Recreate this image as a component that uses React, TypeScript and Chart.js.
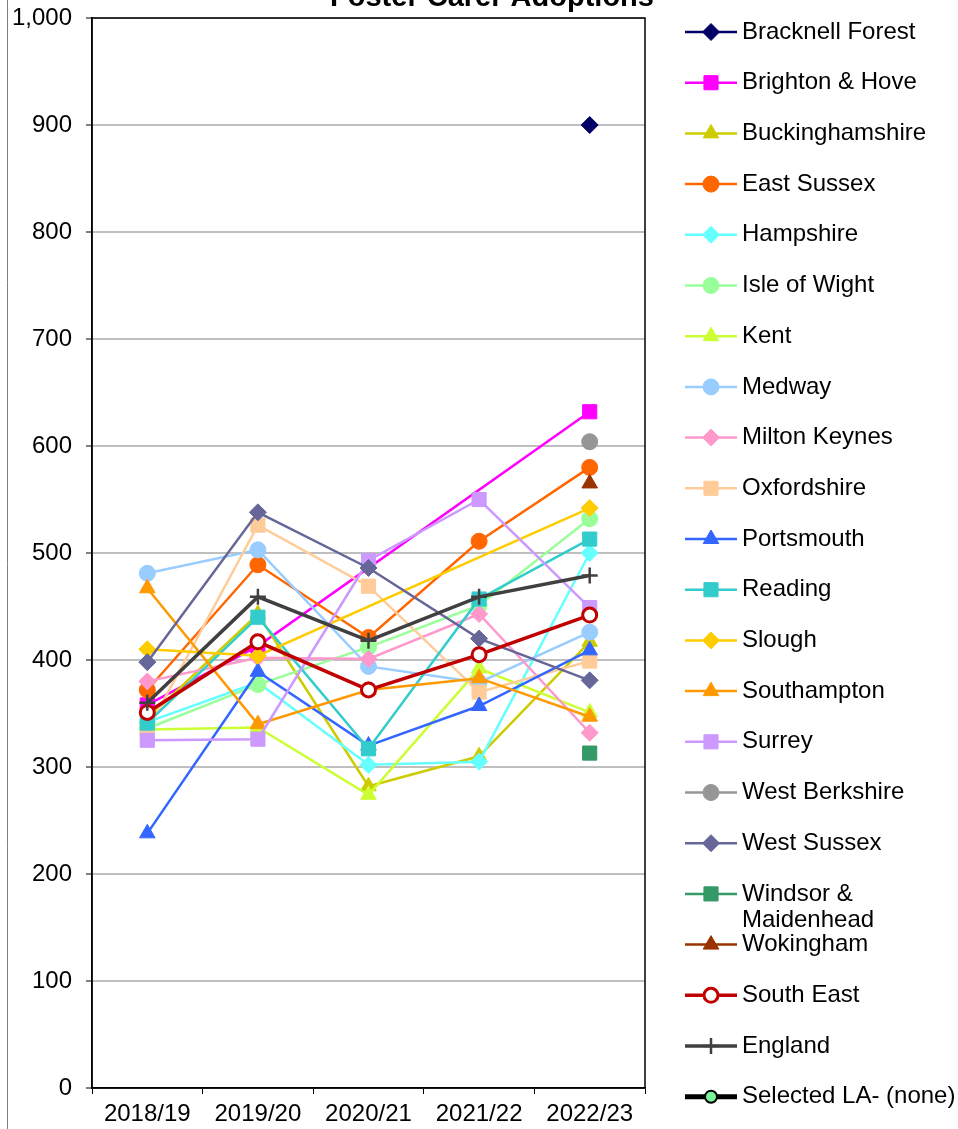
import React, { useEffect, useRef } from 'react';
import { Chart, registerables } from 'chart.js';
import { drawPoint } from 'chart.js/helpers';

Chart.register(...registerables);

const categories = ['2018/19', '2019/20', '2020/21', '2021/22', '2022/23'];
const yTicks = [0, 100, 200, 300, 400, 500, 600, 700, 800, 900, 1000];

const bracknellForest = [null, null, null, null, 900];
const brightonHove = [358, 413, null, null, 632];
const buckinghamshire = [345, 443, 282, 310, 417];
const eastSussex = [372, 489, 421, 511, 580];
const hampshire = [342, 379, 302, 305, 500];
const isleOfWight = [336, 377, 412, 451, 532];
const kent = [335, 337, 274, 392, 351];
const medway = [481, 503, 394, 379, 426];
const miltonKeynes = [380, 402, 401, 443, 332];
const oxfordshire = [334, 526, 469, 370, 399];
const portsmouth = [238, 389, 320, 357, 409];
const reading = [341, 440, 317, 457, 513];
const slough = [410, 404, null, null, 542];
const southampton = [467, 340, 372, 383, 347];
const surrey = [325, 326, 493, 550, 449];
const westBerkshire = [null, null, null, null, 604];
const westSussex = [398, 538, 486, 420, 381];
const windsorMaidenhead = [null, null, null, null, 313];
const wokingham = [null, null, null, null, 565];
const southEast = [351, 417, 372, 405, 442];
const england = [360, 459, 418, 459, 479];
const selectedLA = [null, null, null, null, null];

const FONT = "'Liberation Sans', Arial, sans-serif";
const FONT_SIZE = 24;

type S = {
  label: string[];
  data: (number | null)[];
  color: string;
  fill?: string;
  style: string;
  radius: number;
  lineWidth: number;
  borderWidth: number;
};

const series: S[] = [
  { label: ['Bracknell Forest'], data: bracknellForest, color: '#000066', style: 'rectRot', radius: 8.5, lineWidth: 2.5, borderWidth: 1 },
  { label: ['Brighton & Hove'], data: brightonHove, color: '#FF00FF', style: 'rect', radius: 10, lineWidth: 2.5, borderWidth: 1 },
  { label: ['Buckinghamshire'], data: buckinghamshire, color: '#CCCC00', style: 'triangle', radius: 9, lineWidth: 2.5, borderWidth: 1 },
  { label: ['East Sussex'], data: eastSussex, color: '#FF6600', style: 'circle', radius: 8, lineWidth: 2.5, borderWidth: 1 },
  { label: ['Hampshire'], data: hampshire, color: '#66FFFF', style: 'rectRot', radius: 8.5, lineWidth: 2.5, borderWidth: 1 },
  { label: ['Isle of Wight'], data: isleOfWight, color: '#99FF99', style: 'circle', radius: 8, lineWidth: 2.5, borderWidth: 1 },
  { label: ['Kent'], data: kent, color: '#CCFF33', style: 'triangle', radius: 9, lineWidth: 2.5, borderWidth: 1 },
  { label: ['Medway'], data: medway, color: '#99CCFF', style: 'circle', radius: 8, lineWidth: 2.5, borderWidth: 1 },
  { label: ['Milton Keynes'], data: miltonKeynes, color: '#FF99CC', style: 'rectRot', radius: 8.5, lineWidth: 2.5, borderWidth: 1 },
  { label: ['Oxfordshire'], data: oxfordshire, color: '#FFCC99', style: 'rect', radius: 10, lineWidth: 2.5, borderWidth: 1 },
  { label: ['Portsmouth'], data: portsmouth, color: '#3366FF', style: 'triangle', radius: 9, lineWidth: 2.5, borderWidth: 1 },
  { label: ['Reading'], data: reading, color: '#33CCCC', style: 'rect', radius: 10, lineWidth: 2.5, borderWidth: 1 },
  { label: ['Slough'], data: slough, color: '#FFCC00', style: 'rectRot', radius: 8.5, lineWidth: 2.5, borderWidth: 1 },
  { label: ['Southampton'], data: southampton, color: '#FF9900', style: 'triangle', radius: 9, lineWidth: 2.5, borderWidth: 1 },
  { label: ['Surrey'], data: surrey, color: '#CC99FF', style: 'rect', radius: 10, lineWidth: 2.5, borderWidth: 1 },
  { label: ['West Berkshire'], data: westBerkshire, color: '#969696', style: 'circle', radius: 8, lineWidth: 2.5, borderWidth: 1 },
  { label: ['West Sussex'], data: westSussex, color: '#666699', style: 'rectRot', radius: 8.5, lineWidth: 2.5, borderWidth: 1 },
  { label: ['Windsor &', 'Maidenhead'], data: windsorMaidenhead, color: '#339966', style: 'rect', radius: 10, lineWidth: 2.5, borderWidth: 1 },
  { label: ['Wokingham'], data: wokingham, color: '#993300', style: 'triangle', radius: 9, lineWidth: 2.5, borderWidth: 1 },
  { label: ['South East'], data: southEast, color: '#C00000', fill: '#FFFFFF', style: 'circle', radius: 7, lineWidth: 3.5, borderWidth: 3 },
  { label: ['England'], data: england, color: '#404040', style: 'cross', radius: 8, lineWidth: 3.5, borderWidth: 2.5 },
  { label: ['Selected LA- (none)'], data: selectedLA, color: '#000000', fill: '#7CF59A', style: 'circle', radius: 6, lineWidth: 5, borderWidth: 2 },
];

const framePlugin = {
  id: 'frame',
  beforeDatasetsDraw(chart: any) {
    const { ctx, chartArea } = chart;
    ctx.save();
    ctx.strokeStyle = '#000';
    ctx.lineWidth = 1.5;
    ctx.strokeRect(chartArea.left, chartArea.top, chartArea.right - chartArea.left, chartArea.bottom - chartArea.top);
    ctx.restore();
  },
  afterDraw(chart: any) {
    const { ctx, height } = chart;
    ctx.save();
    ctx.strokeStyle = '#808080';
    ctx.lineWidth = 1;
    ctx.beginPath();
    ctx.moveTo(7.5, 0);
    ctx.lineTo(7.5, height);
    ctx.stroke();
    ctx.fillStyle = '#000';
    ctx.font = `bold 29px ${FONT}`;
    ctx.textAlign = 'center';
    ctx.textBaseline = 'alphabetic';
    ctx.fillText('Foster Carer Adoptions', 492, 6);
    const x0 = 685, x1 = 737, tx = 742;
    const startY = 32, step = 50.7;
    series.forEach((s, i) => {
      const y = startY + i * step;
      ctx.strokeStyle = s.color;
      ctx.lineWidth = s.lineWidth;
      ctx.beginPath();
      ctx.moveTo(x0, y);
      ctx.lineTo(x1, y);
      ctx.stroke();
      ctx.fillStyle = s.fill || s.color;
      ctx.strokeStyle = s.color;
      ctx.lineWidth = s.borderWidth;
      drawPoint(ctx, { pointStyle: s.style, radius: s.radius, rotation: 0, borderWidth: s.borderWidth } as any, (x0 + x1) / 2, y);
      ctx.fillStyle = '#000';
      ctx.font = `${FONT_SIZE}px ${FONT}`;
      ctx.textAlign = 'left';
      ctx.textBaseline = 'middle';
      s.label.forEach((line, j) => ctx.fillText(line, tx, y + j * 26));
    });
    ctx.restore();
  },
};

export default function App() {
  const ref = useRef<HTMLCanvasElement>(null);
  useEffect(() => {
    if (!ref.current) return;
    const n = series.length;
    const chart = new Chart(ref.current, {
      type: 'line',
      data: {
        labels: categories,
        datasets: series.map((s, i) => ({
          label: s.label.join(' '),
          data: s.data,
          borderColor: s.color,
          backgroundColor: s.fill || s.color,
          borderWidth: s.lineWidth,
          pointStyle: s.style as any,
          pointRadius: s.radius,
          pointBackgroundColor: s.fill || s.color,
          pointBorderColor: s.color,
          pointBorderWidth: s.borderWidth,
          spanGaps: true,
          tension: 0,
          fill: false,
          order: n - i,
        })),
      },
      options: {
        animation: false,
        responsive: false,
        devicePixelRatio: 1,
        layout: { padding: { top: 18, right: 313, left: 0, bottom: 0 } },
        plugins: {
          legend: { display: false },
          title: { display: false },
          tooltip: { enabled: false },
        },
        scales: {
          x: {
            offset: true,
            grid: { offset: true, drawOnChartArea: false, drawTicks: true, tickLength: 6, color: '#000', lineWidth: 1 },
            border: { color: '#000', width: 1.5 },
            ticks: { color: '#000', font: { family: FONT, size: FONT_SIZE }, padding: 6, maxRotation: 0 },
            afterFit: (scale: any) => {
              scale.height = 41;
              scale.paddingLeft = 0;
              scale.paddingRight = 0;
            },
          },
          y: {
            min: 0,
            max: 1000,
            afterBuildTicks: (scale: any) => { scale.ticks = yTicks.map((v) => ({ value: v })); },
            grid: { color: '#BFBFBF', lineWidth: 2, tickColor: '#000', tickLength: 6, tickWidth: 1 },
            border: { color: '#000', width: 1.5 },
            ticks: {
              color: '#000',
              font: { family: FONT, size: FONT_SIZE },
              padding: 14,
              callback: (v: any) => Number(v).toLocaleString('en-US'),
            },
            afterFit: (scale: any) => {
              scale.width = 92;
              scale.paddingTop = 0;
              scale.paddingBottom = 0;
            },
          },
        },
      },
      plugins: [framePlugin],
    });
    return () => chart.destroy();
  }, []);
  return (
    <div style={{ position: 'absolute', left: 0, top: 0, width: 958, height: 1129, background: '#fff' }}>
      <canvas ref={ref} width={958} height={1129} style={{ display: 'block' }} />
    </div>
  );
}
